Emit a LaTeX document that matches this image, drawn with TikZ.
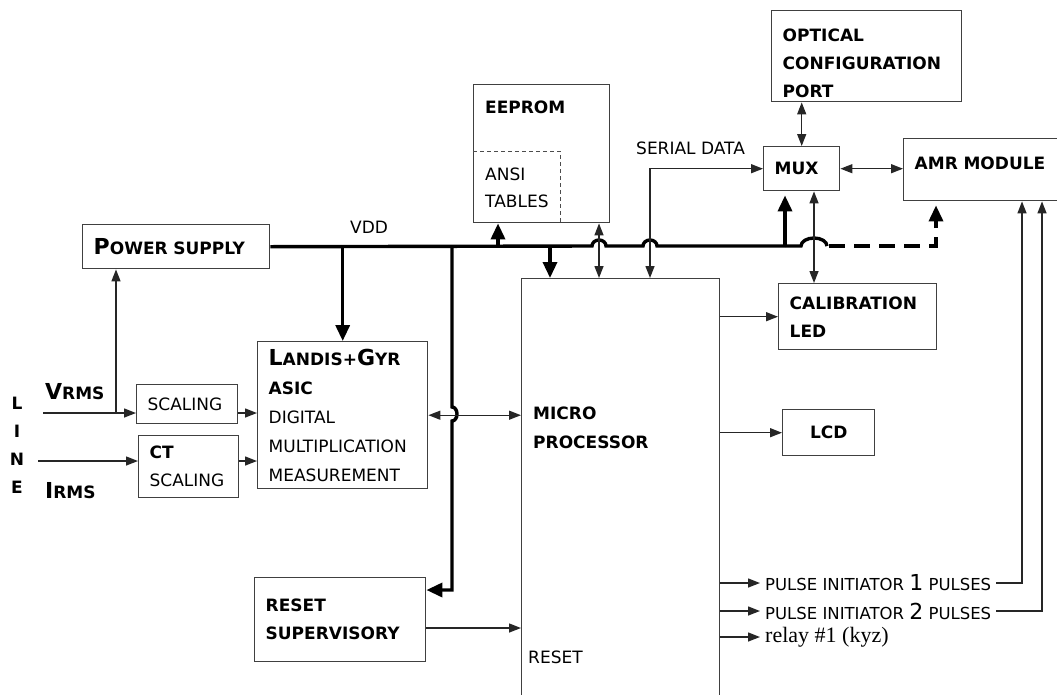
\documentclass[tikz,border=0pt]{standalone}
\usepackage{fontspec}
\setmainfont{DejaVu Sans}
\newfontfamily\relayfont{Liberation Serif}
\usetikzlibrary{arrows.meta,positioning}
\newcommand{\lgch}[1]{{\fontsize{22}{28}\selectfont #1}}

\begin{document}
\begin{tikzpicture}[x=1pt,y=-1pt,
  blk/.style={draw=black!75,line width=1.4pt,anchor=north west,
              inner xsep=11pt,inner ysep=0pt,align=left,
              font={\fontsize{17}{28}\selectfont}},
  bf/.style={font={\fontsize{17}{28}\selectfont\bfseries}},
  lbl/.style={anchor=west,inner sep=0pt,align=left,
              font={\fontsize{17}{28}\selectfont}},
  hd/.style={lbl,font={\fontsize{17}{28}\selectfont\bfseries}},
  sig/.style={draw=black!85,line width=1.4pt,>={Triangle[length=12pt,width=9pt]}},
  bus/.style={line width=3.4pt,>={Triangle[length=16pt,width=14pt]}}
]
\useasboundingbox (0,0) rectangle (1057,694);

% blocks
\node[blk,bf,text width=165pt,minimum height=44pt] (power) at (82,224) {\lgch{P}OWER SUPPLY};
\node[blk,minimum width=136pt,minimum height=138pt] (eeprom) at (473,84) {};
\node[blk,bf,text width=168pt,minimum height=91pt] (optical) at (771,10)
  {\rule{0pt}{26pt}OPTICAL\\CONFIGURATION\\PORT};
\node[blk,bf,text width=54pt,minimum height=44pt] (mux) at (763,146) {MUX};
\node[blk,bf,text width=138pt,minimum height=62pt,text depth=14pt] (amr) at (903,138) {AMR MODULE};
\node[blk,bf,text width=136pt,minimum height=66pt] (cal) at (778,283) {CALIBRATION\\LED};
\node[blk,bf,text width=70pt,minimum height=46pt,align=center] (lcd) at (782,409) {LCD};
\node[blk,minimum width=198pt,minimum height=430pt] (micro) at (521,278) {};
\node[blk,text width=148pt,minimum height=147pt,font={\fontsize{17}{29}\selectfont}] (asic) at (257,341)
  {\textbf{\lgch{L}ANDIS+\lgch{G}YR}\\\textbf{ASIC}\\DIGITAL\\MULTIPLICATION\\MEASUREMENT};
\node[blk,text width=79pt,minimum height=39pt] (vscale) at (136,384) {SCALING};
\node[blk,text width=78pt,minimum height=62pt] (ct) at (138,435) {\textbf{CT}\\SCALING};
\node[blk,bf,text width=149pt,minimum height=84pt] (reset) at (254,577) {RESET\\SUPERVISORY};

% texts inside eeprom and micro
\node[hd] (eeptitle) at (485,107) {EEPROM};
\node[lbl,font={\fontsize{17}{27}\selectfont}] (ansi) at (485,188) {ANSI\\TABLES};
\draw[black!70,line width=1pt,dash pattern=on 4pt off 3pt]
  (eeprom.west |- 0,151) -- (560,151) -- (eeprom.south -| 560,0);
\node[hd,font={\fontsize{17}{29}\selectfont\bfseries}] (mptext) at (533,428) {MICRO\\PROCESSOR};
\node[lbl] (mpreset) at (528,657) {RESET};

% labels
\node[lbl] (vdd) at (350,227) {VDD};
\node[lbl] (serial) at (636,148) {SERIAL DATA};
\node[hd] (vrms) at (45,392) {\lgch{V}RMS};
\node[hd] (irms) at (45,491) {\lgch{I}RMS};
\node[hd,anchor=center] (ln1) at (17,403) {L};
\node[hd,anchor=center] (ln2) at (17,431) {I};
\node[hd,anchor=center] (ln3) at (17,459) {N};
\node[hd,anchor=center] (ln4) at (17,487) {E};
\node[lbl,font={\fontsize{16.5}{20}\selectfont}] (pulse1) at (765,583) {PULSE INITIATOR \lgch{1} PULSES};
\node[lbl,font={\fontsize{16.5}{20}\selectfont}] (pulse2) at (765,611) {PULSE INITIATOR \lgch{2} PULSES};
\node[lbl,font={\relayfont\fontsize{22}{24}\selectfont}] (relay) at (765,637) {relay \#1 (kyz)};

% bus taps
\coordinate (tapA) at (asic.north |- power.east);
\coordinate (tapR) at (452,246);
\coordinate (tapE) at (498,246);
\coordinate (tapM) at (550,246);
\coordinate (jmux) at (785,246);
\coordinate (vin) at (43,413);
\coordinate (vbr) at (116,413);
\coordinate (iin) at (38,461);

% VDD bus
\draw[bus] (power.east) -- (592,246) arc[start angle=180,end angle=0,x radius=7pt,y radius=6pt]
  -- (643,246) arc[start angle=180,end angle=0,x radius=7pt,y radius=6pt] -- (jmux);
\draw[bus,->] (tapA) -- (asic.north);
\draw[bus,->] (tapE) -- (tapE |- eeprom.south);
\draw[bus,->] (tapM) -- (tapM |- micro.north);
\draw[bus,->,shorten >=4pt] (jmux) -- (jmux |- mux.south);
\draw[bus,->] (tapR) -- (452,407) arc[start angle=90,end angle=-90,x radius=5pt,y radius=7pt]
  -- (452,590) -- (reset.east |- 0,590);
\draw[bus] (jmux) -- (801,246) arc[start angle=180,end angle=0,x radius=13pt,y radius=8pt];
\draw[bus,->,shorten >=4pt,dash pattern=on 16pt off 9pt] (829,246) -- (936,246) -- (amr.south -| 936,0);

% signals
\draw[sig,->] (vin) -- (vin -| vscale.west);
\draw[sig,->] (vbr) -- (power.south -| vbr);
\draw[sig,->] (iin) -- (iin -| ct.west);
\draw[sig,->] (vscale.east |- vin) -- (asic.west |- vin);
\draw[sig,->] (ct.east |- iin) -- (asic.west |- iin);
\draw[sig,<->] (asic.east) -- (asic.east -| micro.west);
\draw[sig,->] (reset.east |- 0,628) -- (micro.west |- 0,628);
\draw[sig,<->] (eeprom.south -| 599,0) -- (micro.north -| 599,0);
\draw[sig,<->] (micro.north -| 650,0) |- (mux.west);
\draw[sig,<->] (optical.south -| mux.north) -- (mux.north);
\draw[sig,<->] (mux.east) -- (mux.east -| amr.west);
\draw[sig,<->] (mux.south -| 814,0) -- (cal.north -| 814,0);
\draw[sig,->] (micro.east |- cal.west) -- (cal.west);
\draw[sig,->] (micro.east |- lcd.west) -- (lcd.west);
\draw[sig,->] (micro.east |- pulse1.west) -- ([xshift=-5pt]pulse1.west);
\draw[sig,->] (micro.east |- pulse2.west) -- ([xshift=-5pt]pulse2.west);
\draw[sig,->] (micro.east |- relay.west) -- ([xshift=-5pt]relay.west);
\draw[sig,->] ([xshift=5pt]pulse1.east) -| (amr.south -| 1022,0);
\draw[sig,->] ([xshift=5pt]pulse2.east) -| (amr.south -| 1042,0);
\end{tikzpicture}
\end{document}
